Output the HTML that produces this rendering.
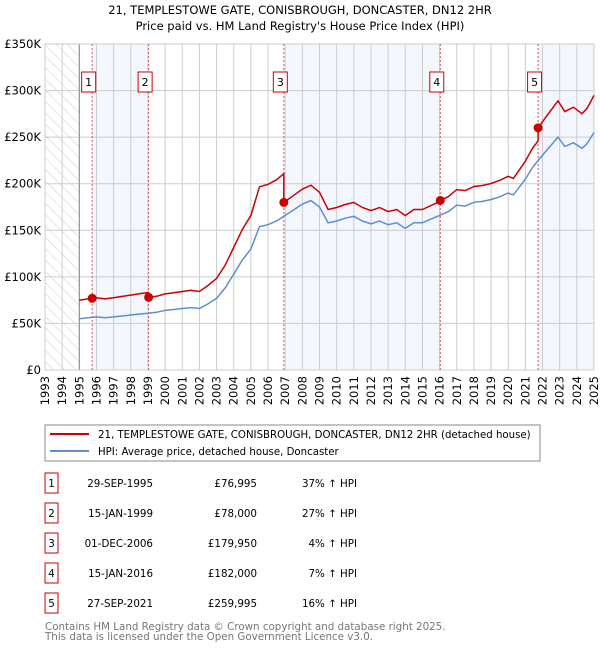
<!DOCTYPE html>
<html><head><meta charset="utf-8"><style>
body{margin:0;background:#fff;font-family:"DejaVu Sans","Liberation Sans",sans-serif;}
svg text{font-family:"DejaVu Sans","Liberation Sans",sans-serif;}
</style></head><body>
<svg id="chart" width="600" height="650" xmlns="http://www.w3.org/2000/svg">
<defs><pattern id="hatch" width="8" height="8" patternUnits="userSpaceOnUse" patternTransform="rotate(-45)"><line x1="0" y1="0" x2="0" y2="8" stroke="#ccc" stroke-width="1"/></pattern></defs>
<text x="300" y="14" text-anchor="middle" font-size="11.5" fill="#000">21, TEMPLESTOWE GATE, CONISBROUGH, DONCASTER, DN12 2HR</text>
<text x="300" y="30" text-anchor="middle" font-size="11.5" fill="#000">Price paid vs. HM Land Registry's House Price Index (HPI)</text>
<g id="plot"></g>
<rect x="45" y="425" width="495" height="36" fill="#fff" stroke="#888"/>
<line x1="50" y1="434" x2="89" y2="434" stroke="#cc0000" stroke-width="2"/>
<text x="98" y="438" font-size="10.2">21, TEMPLESTOWE GATE, CONISBROUGH, DONCASTER, DN12 2HR (detached house)</text>
<line x1="50" y1="451" x2="89" y2="451" stroke="#5b8fd0" stroke-width="2"/>
<text x="98" y="455" font-size="10.2">HPI: Average price, detached house, Doncaster</text>
<g id="table"></g>
<text x="45" y="630" font-size="10.3" fill="#777">Contains HM Land Registry data © Crown copyright and database right 2025.</text>
<text x="45" y="640" font-size="10.3" fill="#777">This data is licensed under the Open Government Licence v3.0.</text>
</svg>
<script>
const hpiYears=[1995,1995.5,1996,1996.5,1997,1997.5,1998,1998.5,1999,1999.5,2000,2000.5,2001,2001.5,2002,2002.5,2003,2003.5,2004,2004.5,2005,2005.5,2006,2006.5,2007,2007.5,2008,2008.5,2009,2009.5,2010,2010.5,2011,2011.5,2012,2012.5,2013,2013.5,2014,2014.5,2015,2015.5,2016,2016.5,2017,2017.5,2018,2018.5,2019,2019.5,2020,2020.3,2021,2021.4,2021.7,2022.2,2022.9,2023.3,2023.8,2024.3,2024.6,2025];
const hpiValues=[55,56,57,56,57,58,59,60,61,62,64,65,66,67,66,71,77,88,103,118,130,154,156,160,166,172,178,182,175,158,160,163,165,160,157,160,156,158,152,158,158,162,166,170,177,176,180,181,183,186,190,188,205,217,224,235,250,240,244,238,243,255];
const saleDates=[1995.75,1999.04,2006.92,2016.04,2021.74];
const salePrices=[76995,78000,179950,182000,259995];
const saleLabels=["29-SEP-1995","15-JAN-1999","01-DEC-2006","15-JAN-2016","27-SEP-2021"];
const saleLabelsPrice=["£76,995","£78,000","£179,950","£182,000","£259,995"];
const saleHpiDiff=["37% ↑ HPI","27% ↑ HPI","4% ↑ HPI","7% ↑ HPI","16% ↑ HPI"];
const yTicks=[0,50,100,150,200,250,300,350];
const yTickLabels=["£0","£50K","£100K","£150K","£200K","£250K","£300K","£350K"];
const xTicks=[1993,1994,1995,1996,1997,1998,1999,2000,2001,2002,2003,2004,2005,2006,2007,2008,2009,2010,2011,2012,2013,2014,2015,2016,2017,2018,2019,2020,2021,2022,2023,2024,2025];

const NS="http://www.w3.org/2000/svg";
const X0=45,X1=594,Y0=370,Y1=44;
const xs=y=>X0+(y-1993)/(2025-1993)*(X1-X0);
const ys=v=>Y0-v/350*(Y0-Y1);
const plot=document.getElementById('plot');
function mk(tag,attrs,parent){const e=document.createElementNS(NS,tag);for(const k in attrs)e.setAttribute(k,attrs[k]);(parent||plot).appendChild(e);return e;}
function hpiAt(t){for(let i=0;i<hpiYears.length-1;i++){if(t<=hpiYears[i+1]){const f=(t-hpiYears[i])/(hpiYears[i+1]-hpiYears[i]);return hpiValues[i]+f*(hpiValues[i+1]-hpiValues[i]);}}return hpiValues[hpiValues.length-1];}

const bandEdges=[...saleDates,2025];
for(let i=0;i<bandEdges.length-1;i+=2){
 const b=mk('rect',{x:xs(bandEdges[i]),y:Y1,width:xs(bandEdges[i+1])-xs(bandEdges[i]),height:Y0-Y1,fill:'#eef3fc',opacity:0.7});
 
 
}
const h=mk('rect',{x:X0,y:Y1,width:xs(1995)-X0,height:Y0-Y1,fill:'url(#hatch)'});


xTicks.forEach(t=>{mk('line',{x1:xs(t),x2:xs(t),y1:Y1,y2:Y0,stroke:'#ccc','stroke-width':1});
 const tx=mk('text',{x:0,y:0,transform:`translate(${xs(t)+4},${Y0+6}) rotate(-90)`,'text-anchor':'end','font-size':11.5});
 tx.textContent=t;
 
 });
yTicks.forEach((t,i)=>{mk('line',{x1:X0,x2:X1,y1:ys(t),y2:ys(t),stroke:'#ccc','stroke-width':1});
 const tx=mk('text',{x:X0-4,y:ys(t)+4,'text-anchor':'end','font-size':11.5});
 tx.textContent=yTickLabels[i];
 
 });
mk('line',{x1:xs(1995),x2:xs(1995),y1:Y1,y2:Y0,stroke:'#888'});
mk('rect',{x:X0,y:Y1,width:X1-X0,height:Y0-Y1,fill:'none',stroke:'#ccc'});
saleDates.forEach((d,i)=>{
 mk('line',{x1:xs(d),x2:xs(d),y1:Y1,y2:Y0,stroke:'#e05050','stroke-dasharray':'2,2','stroke-width':1});
 const g=mk('g',{});
 
 
 mk('rect',{x:xs(d)-10.5,y:72,width:14,height:20,fill:'#fff',stroke:'#cc0000'},g);
 const t=mk('text',{x:xs(d)-3.5,y:86,'text-anchor':'middle','font-size':11},g);t.textContent=i+1;
});
let dp='';
hpiYears.forEach((y,i)=>{dp+=(i?'L':'M')+xs(y).toFixed(1)+','+ys(hpiValues[i]).toFixed(1);});
const hl=mk('path',{d:dp,fill:'none',stroke:'#5b8fd0','stroke-width':1.5});


function ratioAt(t){let k=0;for(let i=0;i<saleDates.length;i++)if(t>=saleDates[i])k=i;return salePrices[k]/1000/hpiAt(saleDates[k]);}
const pts=[];
hpiYears.forEach(y=>pts.push(y));saleDates.forEach(d=>{pts.push(d-0.001);pts.push(d);});
pts.sort((a,b)=>a-b);
let rp='';
pts.forEach((t,i)=>{rp+=(i?'L':'M')+xs(t).toFixed(1)+','+ys(hpiAt(t)*ratioAt(t)).toFixed(1);});
const rl=mk('path',{d:rp,fill:'none',stroke:'#cc0000','stroke-width':1.5});


saleDates.forEach((d,i)=>{
 const c=mk('circle',{cx:xs(d),cy:ys(salePrices[i]/1000),r:4.5,fill:'#cc0000'});
 
 
});
const tb=document.getElementById('table');
saleDates.forEach((d,i)=>{
 const y=483+i*30;
 const g=mk('g',{},tb);
 
 
 mk('rect',{x:45,y:y-10,width:13,height:20,fill:'#fff',stroke:'#cc0000'},g);
 let t=mk('text',{x:51.5,y:y+4,'text-anchor':'middle','font-size':10.3},g);t.textContent=i+1;
 t=mk('text',{x:153,y:y+4,'text-anchor':'end','font-size':10.3},g);t.textContent=saleLabels[i];
 t=mk('text',{x:257,y:y+4,'text-anchor':'end','font-size':10.3},g);t.textContent=saleLabelsPrice[i];
 t=mk('text',{x:357,y:y+4,'text-anchor':'end','font-size':10.3},g);t.textContent=saleHpiDiff[i];
});
</script>
</body></html>
